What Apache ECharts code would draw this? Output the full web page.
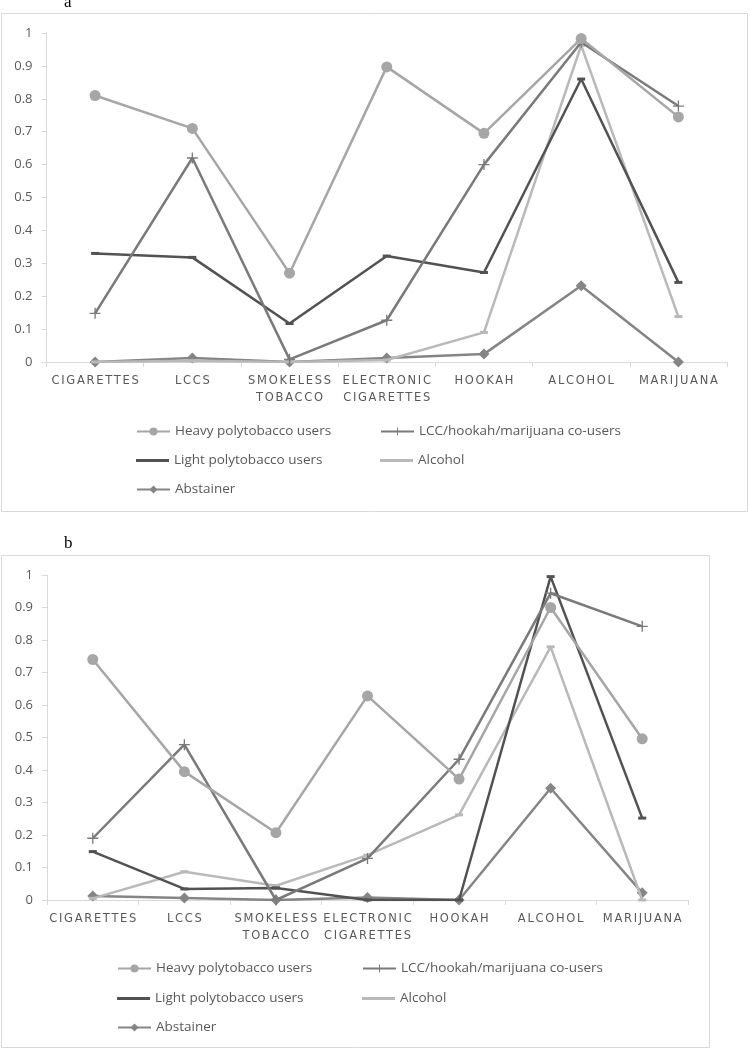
<!DOCTYPE html>
<html>
<head>
<meta charset="utf-8">
<script src="https://cdn.jsdelivr.net/npm/echarts@6/dist/echarts.min.js"></script>
<style>html,body{margin:0;padding:0;background:#fff}#c{width:750px;height:1050px}</style>
</head>
<body>
<div id="c"></div>
<script>
// ---- data ----
const categories = ['CIGARETTES', 'LCCS', 'SMOKELESS TOBACCO', 'ELECTRONIC CIGARETTES', 'HOOKAH', 'ALCOHOL', 'MARIJUANA'];
const seriesNames = ['Heavy polytobacco users', 'LCC/hookah/marijuana co-users', 'Light polytobacco users', 'Alcohol', 'Abstainer'];
const panelLabels = ['a', 'b'];

// panel a
const aHeavy   = [0.81, 0.71, 0.27, 0.897, 0.695, 0.983, 0.745];
const aLCC     = [0.148, 0.62, 0.008, 0.127, 0.60, 0.972, 0.778];
const aLight   = [0.33, 0.318, 0.117, 0.322, 0.272, 0.86, 0.242];
const aAlcohol = [0.0, 0.004, 0.0, 0.006, 0.09, 0.962, 0.138];
const aAbst    = [0.0, 0.012, 0.0, 0.012, 0.024, 0.232, 0.0];

// panel b
const bHeavy   = [0.74, 0.395, 0.207, 0.628, 0.372, 0.90, 0.496];
const bLCC     = [0.19, 0.478, 0.0, 0.128, 0.433, 0.944, 0.842];
const bLight   = [0.149, 0.034, 0.037, 0.0, 0.0, 0.995, 0.252];
const bAlcohol = [0.005, 0.087, 0.044, 0.138, 0.262, 0.779, 0.0];
const bAbst    = [0.012, 0.006, 0.0, 0.008, 0.0, 0.344, 0.022];

const yTicks = { min: 0, max: 1, interval: 0.1 };

// letter-spaced category labels (drawing only; text stays text)
(function () {
  const words = new Set();
  categories.forEach(c => c.split(' ').forEach(w => words.add(w)));
  const P = CanvasRenderingContext2D.prototype;
  const orig = P.fillText;
  P.fillText = function (t, x, y, m) {
    const spaced = words.has(t) && ('letterSpacing' in this);
    if (spaced) this.letterSpacing = '1.7px';
    let r;
    if (m === undefined) r = orig.call(this, t, spaced ? x + 0.85 : x, y);
    else r = orig.call(this, t, spaced ? x + 0.85 : x, y, m);
    if (spaced) this.letterSpacing = '0px';
    return r;
  };
})();

// ---- styles ----
const dashIcon = 'path://M0,0H33V3H0Z';
const styles = [
  { color: '#a6a6a6', symbol: 'circle', symbolSize: 11 },
  { color: '#7a7a7a', symbol: 'path://M0,4.4H10V5.6H0Z M4.4,0H5.6V10H4.4Z', symbolSize: 11 },
  { color: '#525252', symbol: 'rect', symbolSize: [8, 3] },
  { color: '#b9b9b9', symbol: 'rect', symbolSize: [8, 3] },
  { color: '#858585', symbol: 'diamond', symbolSize: 11 }
];
const panelData = [
  [aHeavy, aLCC, aLight, aAlcohol, aAbst],
  [bHeavy, bLCC, bLight, bAlcohol, bAbst]
];

const labelColor = '#595959';
const axisGray = '#d9d9d9';

const grids = [
  { left: 46.5, right: 23, top: 33, height: 329 },
  { left: 47, right: 62, top: 575, height: 325 }
];

function xAx(i) {
  return {
    type: 'category', gridIndex: i, data: categories, boundaryGap: true,
    axisLine: { show: true, lineStyle: { color: axisGray, width: 1 } },
    axisTick: { show: true, length: 5, lineStyle: { color: axisGray } },
    axisLabel: {
      interval: 0, color: labelColor, fontFamily: 'DejaVu Sans', fontSize: 11.5,
      margin: 11, lineHeight: 17,
      formatter: v => v.replace(' ', '\n')
    }
  };
}
function yAx(i) {
  return {
    type: 'value', gridIndex: i, min: yTicks.min, max: yTicks.max, interval: yTicks.interval,
    axisLine: { show: true, lineStyle: { color: axisGray, width: 1 } },
    axisTick: { show: true, length: 5, lineStyle: { color: axisGray } },
    splitLine: { show: false },
    axisLabel: { color: labelColor, fontFamily: 'Open Sans', fontSize: 13, margin: 14,
      formatter: v => String(Math.round(v * 10) / 10) }
  };
}

const series = [];
panelData.forEach((arr, p) => {
  arr.forEach((d, k) => {
    series.push({
      type: 'line', name: seriesNames[k], xAxisIndex: p, yAxisIndex: p,
      data: d, symbol: styles[k].symbol, symbolSize: styles[k].symbolSize,
      showAllSymbol: true, z: 10 - k,
      lineStyle: { color: styles[k].color, width: 2.5 },
      itemStyle: { color: styles[k].color },
      emphasis: { disabled: true }, animation: false
    });
  });
});

function legendOne(idx, left, top) {
  const n = seriesNames[idx];
  const item = (idx === 2 || idx === 3) ? { name: n, icon: dashIcon } : { name: n };
  return {
    orient: 'horizontal', left: left, top: top, data: [item],
    itemWidth: 33, itemHeight: 10,
    textStyle: { color: labelColor, fontFamily: 'Open Sans', fontSize: 13.5 },
    selectedMode: false
  };
}
// legend slots: [seriesIndex, column, row]
const legendSlots = [[0, 0, 0], [1, 1, 0], [2, 0, 1], [3, 1, 1], [4, 0, 2]];
const legendPanels = [
  { cols: [131, 375], rows: [419.5, 448.5, 477.5] },
  { cols: [112, 357], rows: [956.5, 986.5, 1015.5] }
];
const legends = [];
legendPanels.forEach(lp => {
  legendSlots.forEach(s => legends.push(legendOne(s[0], lp.cols[s[1]], lp.rows[s[2]])));
});

const option = {
  animation: false,
  grid: grids,
  xAxis: [xAx(0), xAx(1)],
  yAxis: [yAx(0), yAx(1)],
  legend: legends,
  series: series,
  graphic: [
    { type: 'rect', shape: { x: 1.5, y: 13.5, width: 746, height: 498 }, style: { fill: 'none', stroke: '#d9d9d9', lineWidth: 1 }, silent: true },
    { type: 'rect', shape: { x: 1.5, y: 555.5, width: 708, height: 492 }, style: { fill: 'none', stroke: '#d9d9d9', lineWidth: 1 }, silent: true },
    { type: 'text', left: 64, top: -6, style: { text: panelLabels[0], font: '17px "Liberation Serif"', fill: '#000' } },
    { type: 'text', left: 64, top: 535, style: { text: panelLabels[1], font: '17px "Liberation Serif"', fill: '#000' } }
  ]
};

const chart = echarts.init(document.getElementById('c'), null, { renderer: 'canvas' });
chart.setOption(option);
</script>
</body>
</html>
